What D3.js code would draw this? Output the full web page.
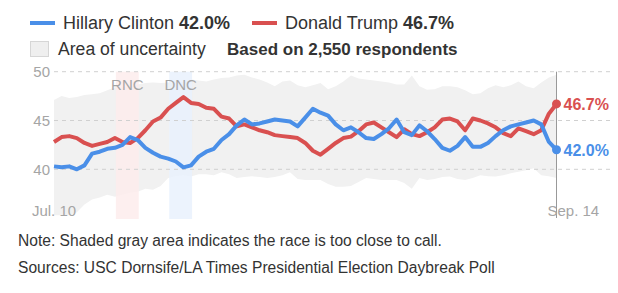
<!DOCTYPE html>
<html>
<head>
<meta charset="utf-8">
<script src="https://cdn.jsdelivr.net/npm/d3@7"></script>
<style>
  body { margin: 0; background: #fff; }
  svg { display: block; font-family: "Liberation Sans", Arial, sans-serif; }
</style>
</head>
<body>
<svg id="chart" width="618" height="293"></svg>
<script>
// daily poll values, Jul. 10 to Sep. 14 2016
const startDate = '2016-07-10';
const clinton = [40.3, 40.2, 40.3, 40.0, 40.4, 41.6, 41.8, 42.1, 42.2, 42.5,
  43.3, 43.0, 42.2, 41.7, 41.3, 41.1, 40.8, 40.2, 40.4, 41.3,
  41.8, 42.1, 43.0, 43.6, 44.5, 45.1, 44.6, 44.7, 44.9, 45.1,
  45.0, 44.9, 44.4, 45.3, 46.2, 45.8, 45.5, 44.6, 44.0, 44.3,
  43.8, 43.2, 43.1, 43.6, 44.2, 45.1, 43.8, 43.5, 44.5, 43.9,
  43.1, 42.2, 41.9, 42.4, 43.3, 42.3, 42.3, 42.7, 43.4, 44.0,
  44.4, 44.6, 44.8, 45.0, 44.6, 42.8, 42.0];
const trump = [42.8, 43.3, 43.4, 43.2, 42.7, 42.4, 42.6, 42.8, 43.2, 42.8,
  42.7, 43.2, 44.0, 44.9, 45.3, 46.2, 46.8, 47.4, 46.8, 46.7,
  46.3, 46.2, 45.4, 45.2, 44.4, 44.6, 44.3, 44.0, 43.8, 43.5,
  43.4, 43.3, 43.2, 42.7, 41.9, 41.5, 42.1, 42.7, 43.2, 43.35,
  43.9, 44.6, 44.8, 44.3, 43.8, 43.3, 44.1, 43.6, 43.4, 43.8,
  44.3, 45.1, 45.2, 44.9, 44.0, 45.2, 45.0, 44.7, 44.3, 43.7,
  43.4, 44.2, 43.9, 43.6, 44.0, 45.7, 46.7];
const upper = [47.1, 47.5, 47.3, 47.4, 47.6, 47.7, 47.8, 48.1, 48.4, 48.4,
  48.5, 48.7, 48.85, 48.9, 48.85, 48.9, 48.85, 49.0, 49.2, 49.1,
  49.0, 49.2, 49.35, 49.4, 49.6, 49.7, 49.4, 49.2, 48.9, 48.5,
  49.0, 49.1, 48.6, 48.4, 48.6, 48.85, 48.2, 48.5, 49.0, 49.6,
  49.3, 49.2, 49.1, 49.0, 48.9, 48.7, 48.7, 49.6, 48.5, 48.15,
  48.2, 48.5, 48.5, 48.4, 48.1, 47.7, 47.8, 48.3, 48.6, 48.4,
  48.6, 49.0, 48.5, 48.3, 48.9, 49.4, 49.7];
const lower = [35.3, 35.3, 35.3, 35.6, 36.4, 36.9, 37.1, 37.4, 37.2, 37.4,
  37.6, 37.7, 38.0, 37.9, 38.3, 39.1, 39.3, 39.4, 39.25, 39.5,
  39.5, 39.4, 39.7, 39.5, 39.1, 39.2, 39.3, 39.2, 39.1, 39.2,
  39.4, 39.7, 39.0, 38.9, 38.9, 38.9, 38.5, 38.2, 38.2, 38.3,
  38.7, 39.1, 39.0, 38.9, 38.9, 38.9, 38.6, 38.0, 39.1, 38.9,
  39.0, 39.2, 39.25, 39.0, 38.9, 39.1, 39.4, 39.3, 39.25, 39.4,
  39.6, 39.75, 39.9, 40.1, 39.4, 39.3, 39.1];

const conventions = ['RNC', 'DNC'];
const conventionStart = ['2016-07-18', '2016-07-25'];
const conventionEnd = ['2016-07-21', '2016-07-28'];
const conventionColors = ['#fdecec', '#e9f1fd'];

const yTicks = [40, 45, 50];
const xTickLabels = ['Jul. 10', 'Sep. 14'];

const names = ['Hillary Clinton', 'Donald Trump'];
const colors = ['#4a8fe8', '#d95050'];
const respondents = '2,550';

const noteText = 'Note: Shaded gray area indicates the race is too close to call.';
const sourceText = 'Sources: USC Dornsife/LA Times Presidential Election Daybreak Poll';

const parse = d3.timeParse('%Y-%m-%d');
const start = parse(startDate);
const days = clinton.map((v, i) => d3.timeDay.offset(start, i));
const endDate = days[days.length - 1];

const svg = d3.select('#chart');

const x = d3.scaleTime().domain([start, endDate]).range([54, 556.5]);
const y = d3.scaleLinear().domain([40, 50]).range([169.3, 71.7]);

// legend
const fmt = d3.format('.1f');
const finals = [clinton[clinton.length - 1], trump[trump.length - 1]];
const legendX = [30, 252];
names.forEach((n, i) => {
  svg.append('line')
    .attr('x1', legendX[i]).attr('x2', legendX[i] + 25)
    .attr('y1', 23).attr('y2', 23)
    .attr('stroke', colors[i]).attr('stroke-width', 4);
  const t = svg.append('text')
    .attr('x', legendX[i] + 33).attr('y', 28.5)
    .attr('font-size', '18px').attr('fill', '#333');
  t.append('tspan').text(n + ' ');
  t.append('tspan').attr('font-weight', 'bold').text(fmt(finals[i]) + '%');
});

svg.append('rect')
  .attr('x', 30.5).attr('y', 41.5).attr('width', 18).attr('height', 15)
  .attr('fill', '#efefef').attr('stroke', '#d6d6d6');
svg.append('text')
  .attr('x', 58).attr('y', 55)
  .attr('font-size', '17.6px').attr('fill', '#333')
  .text('Area of uncertainty');
svg.append('text')
  .attr('x', 227).attr('y', 55)
  .attr('font-size', '17px').attr('font-weight', 'bold').attr('fill', '#333')
  .text(`Based on ${respondents} respondents`);

// uncertainty area
const area = d3.area()
  .x((d, i) => x(days[i]))
  .y0((d, i) => y(lower[i]))
  .y1(d => y(d));
svg.append('path')
  .datum(upper)
  .attr('d', area)
  .attr('fill', '#f1f1f1');

// convention bands
conventions.forEach((c, i) => {
  const x0 = x(parse(conventionStart[i]));
  const x1 = x(parse(conventionEnd[i]));
  svg.append('rect')
    .attr('x', x0 + 1).attr('y', y(50))
    .attr('width', x1 - x0).attr('height', 219 - y(50))
    .attr('fill', conventionColors[i]).attr('opacity', 0.85);
  svg.append('text')
    .attr('x', (x0 + x1) / 2 + 1).attr('y', 90)
    .attr('text-anchor', 'middle')
    .attr('font-size', '15px').attr('fill', '#a5a5a5')
    .text(c);
});

// grid + y labels
yTicks.forEach(t => {
  svg.append('line')
    .attr('x1', 54).attr('x2', 612)
    .attr('y1', y(t)).attr('y2', y(t))
    .attr('stroke', '#d0d0d0').attr('stroke-dasharray', '4,4');
  svg.append('text')
    .attr('x', 50).attr('y', y(t) + 5.5)
    .attr('text-anchor', 'end')
    .attr('font-size', '15px').attr('fill', '#a5a5a5')
    .text(t);
});

// end marker line
svg.append('line')
  .attr('x1', x(endDate)).attr('x2', x(endDate))
  .attr('y1', y(50)).attr('y2', 218)
  .attr('stroke', '#999').attr('stroke-width', 1);

// x labels
svg.append('text')
  .attr('x', x(start)).attr('y', 216)
  .attr('text-anchor', 'middle')
  .attr('font-size', '15px').attr('fill', '#a5a5a5')
  .text(xTickLabels[0]);
svg.append('text')
  .attr('x', x(endDate) - 9).attr('y', 216)
  .attr('font-size', '15px').attr('fill', '#a5a5a5')
  .text(xTickLabels[1]);

// lines
const line = d3.line()
  .x((d, i) => x(days[i]))
  .y(d => y(d));
[trump, clinton].forEach((s, k) => {
  const c = k === 0 ? colors[1] : colors[0];
  svg.append('path')
    .datum(s)
    .attr('d', line)
    .attr('fill', 'none')
    .attr('stroke', c)
    .attr('stroke-width', 4)
    .attr('stroke-linejoin', 'round');
});

// end dots + labels
[clinton, trump].forEach((s, i) => {
  const v = s[s.length - 1];
  svg.append('circle')
    .attr('cx', x(endDate)).attr('cy', y(v)).attr('r', 4.5)
    .attr('fill', colors[i]);
  svg.append('text')
    .attr('x', x(endDate) + 7).attr('y', y(v) + 6)
    .attr('font-size', '16px').attr('font-weight', 'bold')
    .attr('fill', colors[i])
    .text(fmt(v) + '%');
});

// notes
svg.append('text')
  .attr('x', 18).attr('y', 246)
  .attr('font-size', '15.6px').attr('fill', '#333')
  .text(noteText);
svg.append('text')
  .attr('x', 18).attr('y', 273)
  .attr('font-size', '15.6px').attr('fill', '#333')
  .text(sourceText);
</script>
</body>
</html>
